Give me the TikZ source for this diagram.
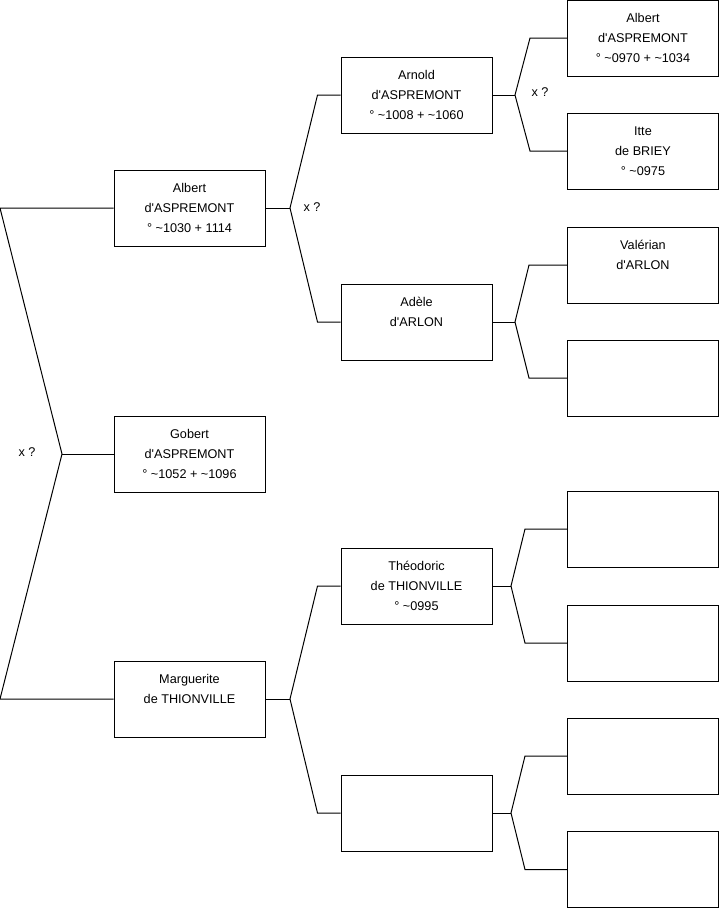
\documentclass[tikz,border=0pt]{standalone}
\usepackage{fontspec}
\setmainfont{Liberation Sans}[Ligatures=TeXOff]
\usetikzlibrary{calc}

\begin{document}
\begin{tikzpicture}[x=0.75pt, y=-0.75pt, line width=0.75pt, font=\fontsize{9.5}{15}\selectfont,
	personne/.style={draw, minimum width=113.25pt, minimum height=57pt, inner sep=0pt, align=center}]
	\useasboundingbox (0,0) rectangle (719,908);
	
	% génération 1
	\node[personne] (albert) at (189.5,208) {Albert\\d'ASPREMONT\\° \textasciitilde1030 + 1114};
	\node[personne] (gobert) at (189.5,454) {Gobert\\d'ASPREMONT\\° \textasciitilde1052 + \textasciitilde1096};
	\node[personne] (marguerite) at (189.5,699) {Marguerite\\de THIONVILLE\\\vphantom{0}};
	
	% génération 2
	\node[personne] (arnold) at (416.5,95) {Arnold\\d'ASPREMONT\\° \textasciitilde1008 + \textasciitilde1060};
	\node[personne] (adele) at (416.5,322) {Adèle\\d'ARLON\\\vphantom{0}};
	\node[personne] (theodoric) at (416.5,586) {Théodoric\\de THIONVILLE\\° \textasciitilde0995};
	\node[personne] (vide0) at (416.5,813) {};
	
	% génération 3
	\node[personne] (albertpere) at (643,38) {Albert\\d'ASPREMONT\\° \textasciitilde0970 + \textasciitilde1034};
	\node[personne] (itte) at (643,151) {Itte\\de BRIEY\\° \textasciitilde0975};
	\node[personne] (valerian) at (643,265) {Valérian\\d'ARLON\\\vphantom{0}};
	\node[personne] (vide1) at (643,378) {};
	\node[personne] (vide2) at (643,529) {};
	\node[personne] (vide3) at (643,643) {};
	\node[personne] (vide4) at (643,756) {};
	\node[personne] (vide5) at (643,869.5) {};
	
	% mariages incertains
	\node (xq0) at (27,452) {x ?};
	\node (xq1) at (312,207) {x ?};
	\node (xq2) at (540,92) {x ?};
	
	% fratrie à gauche
	\coordinate (g0) at (0,208);
	\coordinate (j0) at (62,454);
	\coordinate (d0) at (0,699);
	\draw (albert.west) -- (g0) -- (j0) -- (d0) -- (marguerite.west);
	\draw (j0) -- (gobert.west);
	
	% parents
	\coordinate (j1) at (290,208);
	\draw (albert.east) -- (j1);
	\draw (arnold.west) -- ++(-23,0) -- (j1) -- ($(adele.west)+(-23,0)$) -- (adele.west);
	
	\coordinate (j2) at (290,699);
	\draw (marguerite.east) -- (j2);
	\draw (theodoric.west) -- ++(-23,0) -- (j2) -- ($(vide0.west)+(-23,0)$) -- (vide0.west);
	
	\coordinate (j3) at (515,95);
	\draw (arnold.east) -- (j3);
	\draw (albertpere.west) -- ++(-37,0) -- (j3) -- ($(itte.west)+(-37,0)$) -- (itte.west);
	
	\coordinate (j4) at (515,322);
	\draw (adele.east) -- (j4);
	\draw (valerian.west) -- ++(-38,0) -- (j4) -- ($(vide1.west)+(-38,0)$) -- (vide1.west);
	
	\coordinate (j5) at (511,586);
	\draw (theodoric.east) -- (j5);
	\draw (vide2.west) -- ++(-42,0) -- (j5) -- ($(vide3.west)+(-42,0)$) -- (vide3.west);
	
	\coordinate (j6) at (511,813);
	\draw (vide0.east) -- (j6);
	\draw (vide4.west) -- ++(-42,0) -- (j6) -- ($(vide5.west)+(-42,0)$) -- (vide5.west);
\end{tikzpicture}
\end{document}
